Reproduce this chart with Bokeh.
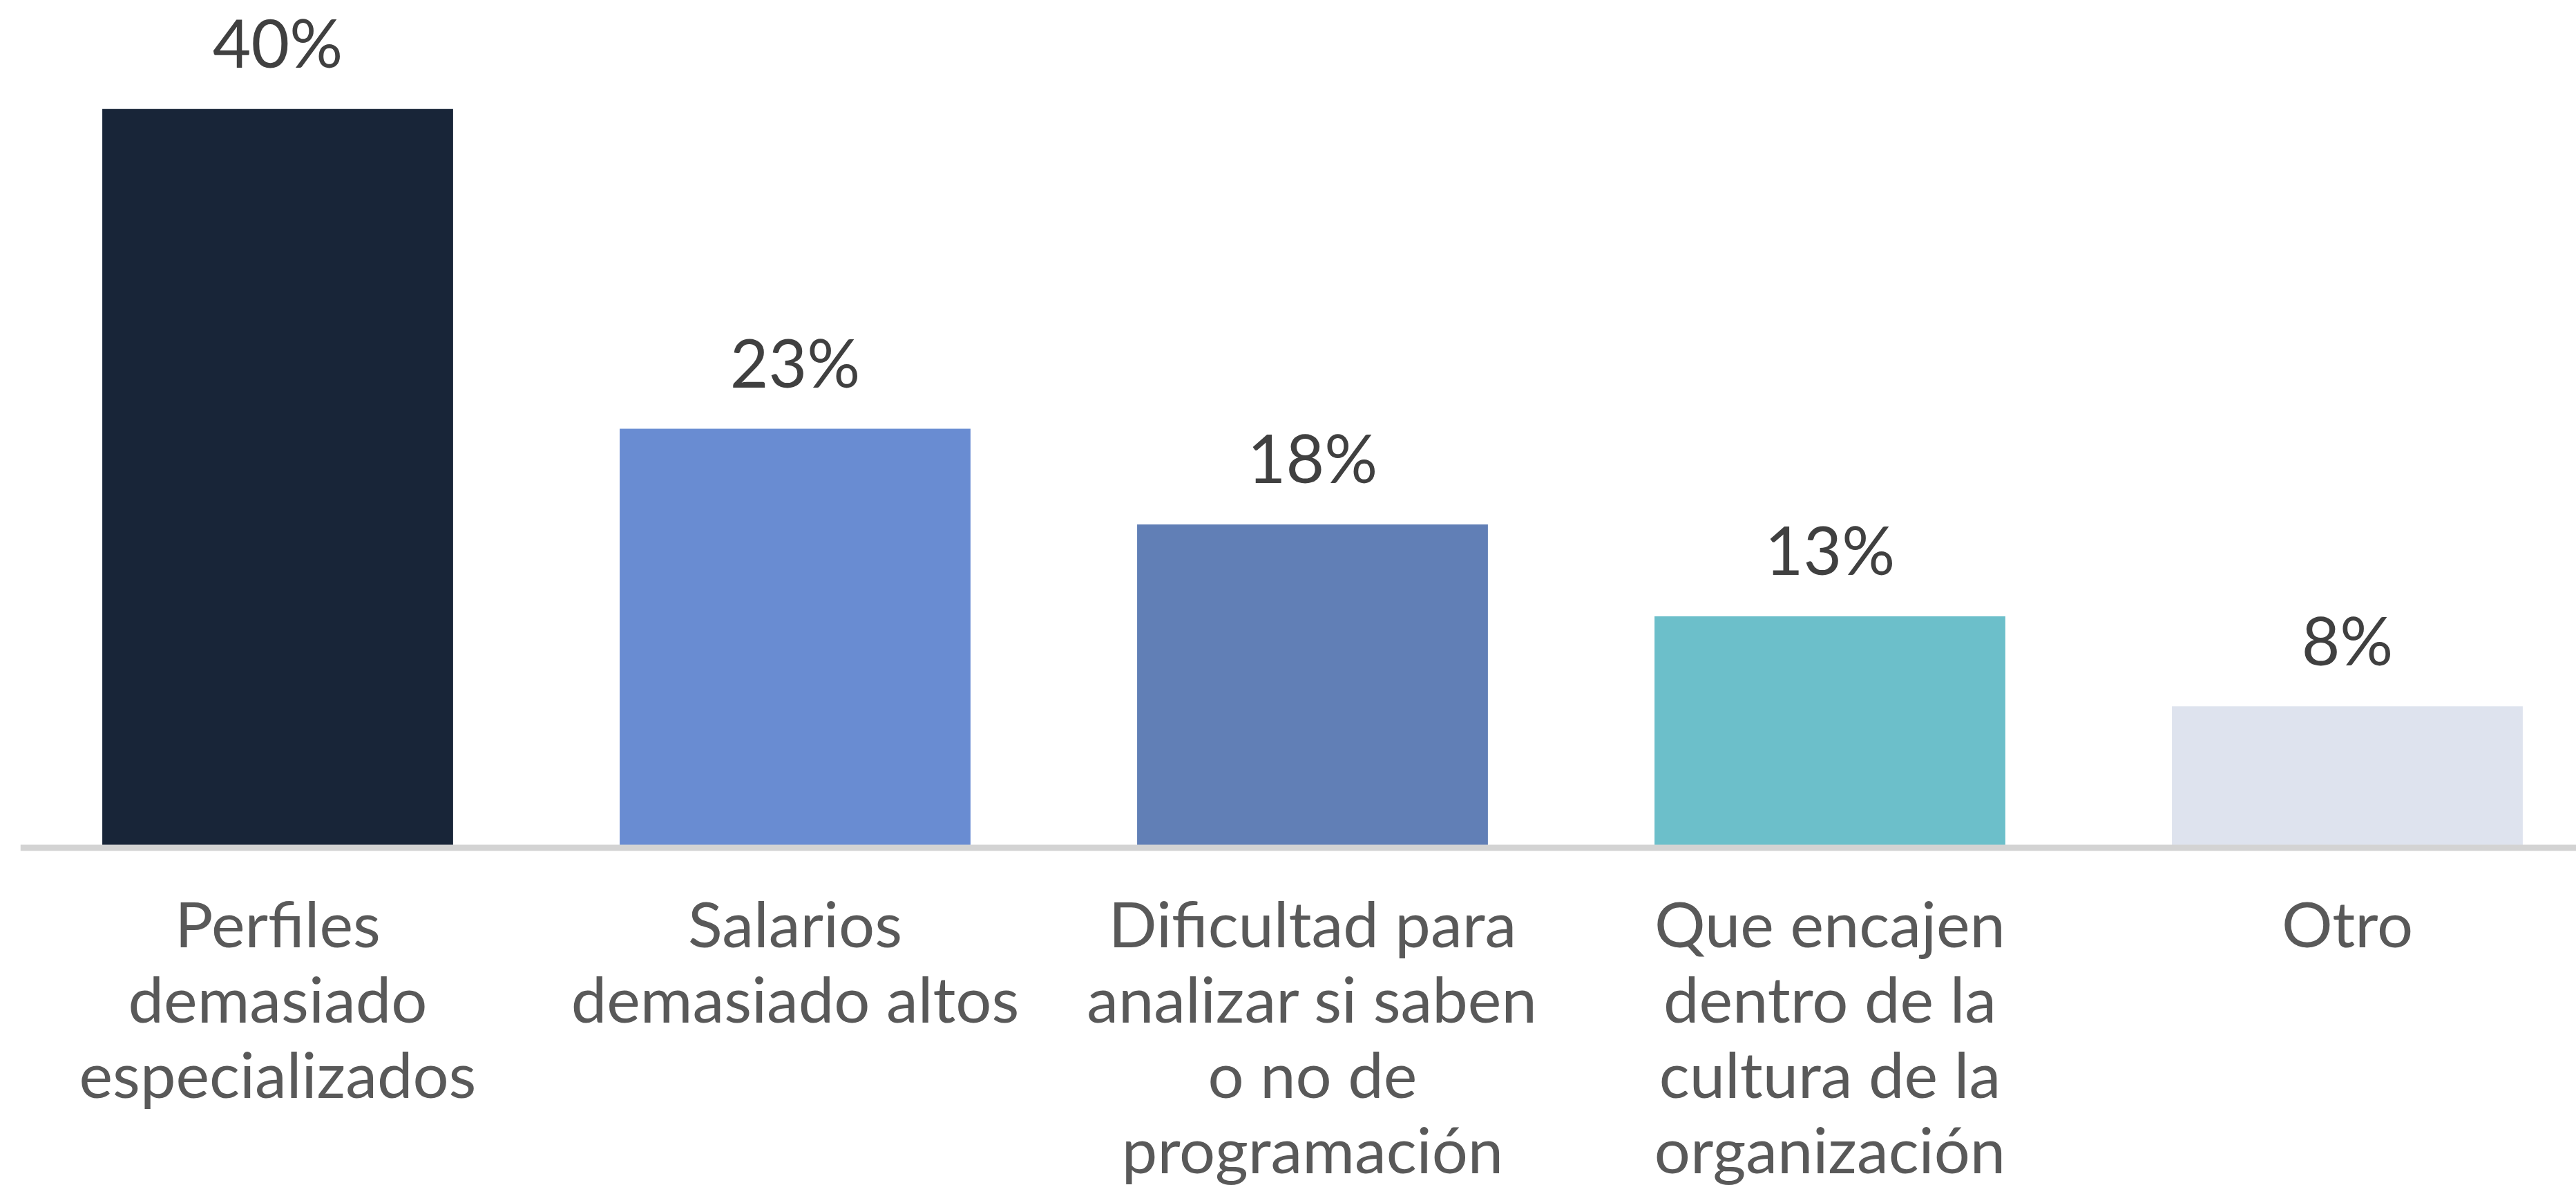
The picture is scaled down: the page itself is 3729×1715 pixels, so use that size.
from bokeh.plotting import figure
from bokeh.models import Range1d, Span, ColumnDataSource
from bokeh.embed import file_html
from bokeh.resources import INLINE
from bokeh.core.properties import value

# ---- data ----
categories = [
    "Perfiles\ndemasiado\nespecializados",
    "Salarios\ndemasiado altos",
    "Dificultad para\nanalizar si saben\no no de\nprogramación",
    "Que encajen\ndentro de la\ncultura de la\norganización",
    "Otro",
]
values = [40.2, 22.8, 17.6, 12.6, 7.7]
value_labels = ["40%", "23%", "18%", "13%", "8%"]
colors = ["#182538", "#698cd2", "#617fb6", "#6cbfca", "#dee3ee"]

# ---- layout constants (style) ----
W, H = 3729, 1715
xs = list(range(len(categories)))

bars = ColumnDataSource(dict(x=xs, top=values, color=colors, lab=value_labels))

line_x, line_y, line_t, line_off = [], [], [], []
for i, cat in enumerate(categories):
    for j, ln in enumerate(cat.split("\n")):
        line_x.append(xs[i])
        line_y.append(0)
        line_t.append(ln)
        line_off.append(108 + j * 109)
cats = ColumnDataSource(dict(x=line_x, y=line_y, t=line_t, off=line_off))

p = figure(width=W, height=H, output_backend="svg", toolbar_location=None,
           x_range=Range1d(-0.4973, 4.4426), y_range=Range1d(-18.36, 46.11),
           min_border_left=29, min_border_right=0, min_border_top=0, min_border_bottom=0)
p.xaxis.visible = False
p.yaxis.visible = False
p.xgrid.visible = False
p.ygrid.visible = False
p.outline_line_color = None
p.background_fill_color = "white"
p.border_fill_color = "white"

p.vbar(x="x", top="top", bottom=0, width=0.678, color="color", line_color=None, source=bars)

p.add_layout(Span(location=0, dimension="width", line_color="#d3d3d3", line_width=9))

p.text(x="x", y="top", text="lab", source=bars, y_offset=-97,
       text_align="center", text_baseline="alphabetic",
       text_font=value("Lato"), text_font_size="96px", text_color="#404040")

p.text(x="x", y="y", text="t", source=cats, y_offset="off",
       text_align="center", text_baseline="alphabetic",
       text_font=value("Lato"), text_font_size="92px", text_color="#595959")

open("out.html", "w").write(file_html(p, INLINE))
